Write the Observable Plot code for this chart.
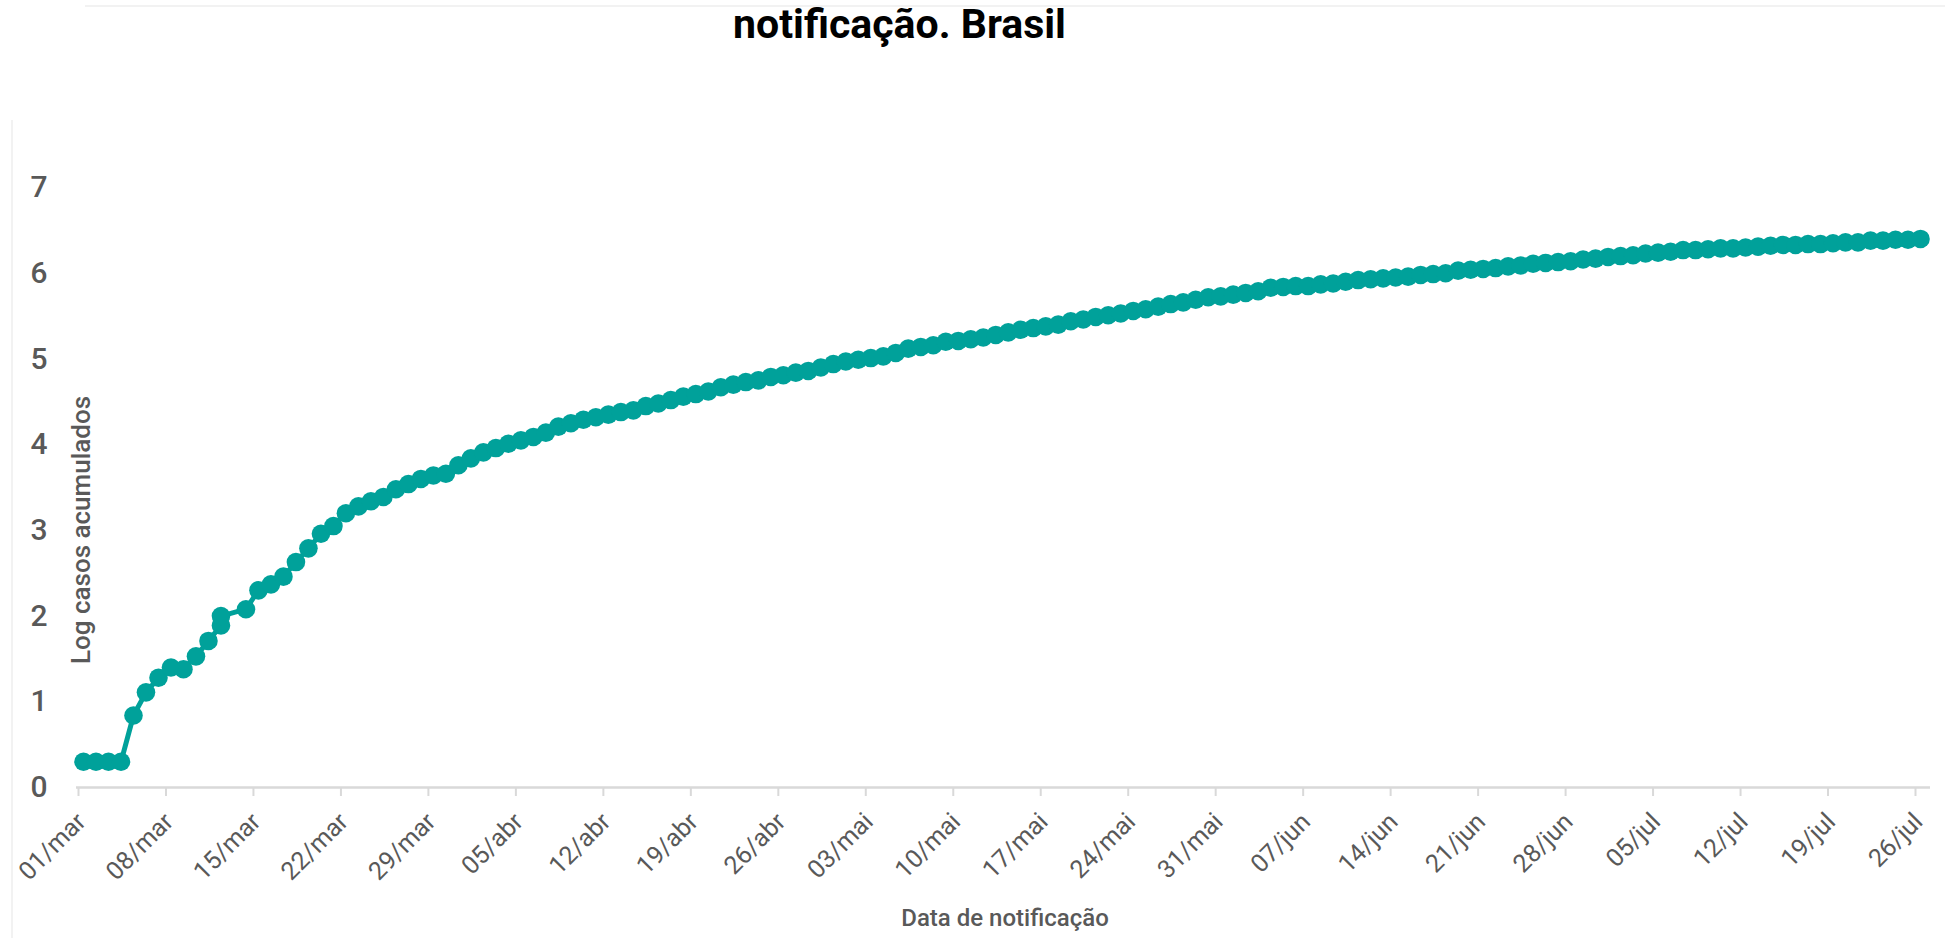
<!DOCTYPE html>
<html>
<head>
<meta charset="utf-8">
<script src="https://cdn.jsdelivr.net/npm/d3@7"></script>
<script src="https://cdn.jsdelivr.net/npm/@observablehq/plot@0.6"></script>
<style>
  html, body { margin: 0; padding: 0; background: #ffffff; }
  body { width: 1945px; height: 938px; position: relative; overflow: hidden; font-family: Roboto, "Noto Sans", sans-serif; }
  #title { height: 60px; box-sizing: border-box; padding-top: 4px; text-align: center; font-size: 41px; line-height: 1; font-weight: 700; color: #000; position: relative; left: -73px; }
  #ylabel { position: absolute; left: 81px; top: 530px; transform: translate(-50%, -50%) rotate(-90deg); white-space: nowrap; font-size: 26px; font-weight: 500; color: #595959; }
  #xlabel { position: absolute; left: 1005px; top: 918px; transform: translate(-50%, -50%); white-space: nowrap; font-size: 24px; font-weight: 500; color: #595959; }
  #topline { position: absolute; left: 85px; right: 0; top: 5px; height: 2px; background: #f2f2f2; }
  #leftline { position: absolute; left: 11px; top: 120px; bottom: 0; width: 2px; background: #f2f2f2; }
</style>
</head>
<body>
<div id="topline"></div>
<div id="leftline"></div>
<div id="title">notificação. Brasil</div>
<div id="chart"></div>
<div id="ylabel">Log casos acumulados</div>
<div id="xlabel">Data de notificação</div>
<script>
// Dates of notification (one date appears twice in the source, one is missing)
const dates = [
  "2020-03-01","2020-03-02","2020-03-03","2020-03-04","2020-03-05","2020-03-06","2020-03-07",
  "2020-03-08","2020-03-09","2020-03-10","2020-03-11","2020-03-12","2020-03-12","2020-03-14",
  "2020-03-15","2020-03-16","2020-03-17","2020-03-18","2020-03-19","2020-03-20","2020-03-21",
  "2020-03-22","2020-03-23","2020-03-24","2020-03-25","2020-03-26","2020-03-27","2020-03-28",
  "2020-03-29","2020-03-30","2020-03-31","2020-04-01","2020-04-02","2020-04-03","2020-04-04",
  "2020-04-05","2020-04-06","2020-04-07","2020-04-08","2020-04-09","2020-04-10","2020-04-11",
  "2020-04-12","2020-04-13","2020-04-14","2020-04-15","2020-04-16","2020-04-17","2020-04-18",
  "2020-04-19","2020-04-20","2020-04-21","2020-04-22","2020-04-23","2020-04-24","2020-04-25",
  "2020-04-26","2020-04-27","2020-04-28","2020-04-29","2020-04-30","2020-05-01","2020-05-02",
  "2020-05-03","2020-05-04","2020-05-05","2020-05-06","2020-05-07","2020-05-08","2020-05-09",
  "2020-05-10","2020-05-11","2020-05-12","2020-05-13","2020-05-14","2020-05-15","2020-05-16",
  "2020-05-17","2020-05-18","2020-05-19","2020-05-20","2020-05-21","2020-05-22","2020-05-23",
  "2020-05-24","2020-05-25","2020-05-26","2020-05-27","2020-05-28","2020-05-29","2020-05-30",
  "2020-05-31","2020-06-01","2020-06-02","2020-06-03","2020-06-04","2020-06-05","2020-06-06",
  "2020-06-07","2020-06-08","2020-06-09","2020-06-10","2020-06-11","2020-06-12","2020-06-13",
  "2020-06-14","2020-06-15","2020-06-16","2020-06-17","2020-06-18","2020-06-19","2020-06-20",
  "2020-06-21","2020-06-22","2020-06-23","2020-06-24","2020-06-25","2020-06-26","2020-06-27",
  "2020-06-28","2020-06-29","2020-06-30","2020-07-01","2020-07-02","2020-07-03","2020-07-04",
  "2020-07-05","2020-07-06","2020-07-07","2020-07-08","2020-07-09","2020-07-10","2020-07-11",
  "2020-07-12","2020-07-13","2020-07-14","2020-07-15","2020-07-16","2020-07-17","2020-07-18",
  "2020-07-19","2020-07-20","2020-07-21","2020-07-22","2020-07-23","2020-07-24","2020-07-25",
  "2020-07-26"
];

// Log10 of accumulated cases
const logCases = [
  0.30, 0.30, 0.30, 0.30, 0.84, 1.11, 1.28,
  1.40, 1.38, 1.53, 1.71, 1.89, 2.00, 2.08,
  2.30, 2.37, 2.46, 2.63, 2.79, 2.96, 3.05,
  3.20, 3.28, 3.34, 3.39, 3.48, 3.54, 3.60,
  3.64, 3.66, 3.76, 3.84, 3.91, 3.96, 4.01,
  4.05, 4.09, 4.14, 4.21, 4.25, 4.29, 4.32,
  4.35, 4.38, 4.40, 4.45, 4.48, 4.52, 4.56,
  4.59, 4.62, 4.67, 4.70, 4.73, 4.75, 4.79,
  4.81, 4.84, 4.86, 4.90, 4.94, 4.97, 4.99,
  5.01, 5.03, 5.07, 5.12, 5.14, 5.16, 5.20,
  5.21, 5.23, 5.25, 5.28, 5.31, 5.34, 5.36,
  5.38, 5.40, 5.44, 5.46, 5.49, 5.51, 5.53,
  5.56, 5.58, 5.61, 5.64, 5.66, 5.69, 5.72,
  5.73, 5.75, 5.77, 5.79, 5.83, 5.84, 5.85,
  5.85, 5.87, 5.88, 5.90, 5.92, 5.93, 5.94,
  5.95, 5.96, 5.98, 5.99, 6.00, 6.03, 6.04,
  6.05, 6.06, 6.08, 6.09, 6.11, 6.12, 6.13,
  6.14, 6.16, 6.17, 6.19, 6.20, 6.21, 6.23,
  6.24, 6.25, 6.27, 6.27, 6.28, 6.29, 6.29,
  6.30, 6.31, 6.32, 6.33, 6.33, 6.34, 6.34,
  6.35, 6.36, 6.36, 6.38, 6.38, 6.39, 6.39,
  6.40
];

// Axis ticks
const tickDates = [
  "2020-03-01","2020-03-08","2020-03-15","2020-03-22","2020-03-29","2020-04-05","2020-04-12",
  "2020-04-19","2020-04-26","2020-05-03","2020-05-10","2020-05-17","2020-05-24","2020-05-31",
  "2020-06-07","2020-06-14","2020-06-21","2020-06-28","2020-07-05","2020-07-12","2020-07-19",
  "2020-07-26"
];
const tickLabels = [
  "01/mar","08/mar","15/mar","22/mar","29/mar","05/abr","12/abr",
  "19/abr","26/abr","03/mai","10/mai","17/mai","24/mai","31/mai",
  "07/jun","14/jun","21/jun","28/jun","05/jul","12/jul","19/jul",
  "26/jul"
];
const yTicks = [0, 1, 2, 3, 4, 5, 6, 7];

const parse = s => new Date(s + "T00:00:00Z");
const data = dates.map((d, i) => ({date: parse(d), value: logCases[i]}));
const tickDateObjs = tickDates.map(parse);
const labelOf = new Map(tickDateObjs.map((d, i) => [+d, tickLabels[i]]));

const teal = "#00a19a";

const chart = Plot.plot({
  width: 1945,
  height: 878,
  marginTop: 127,
  marginBottom: 151,
  marginLeft: 83,
  marginRight: 25,
  style: {fontFamily: "Roboto, 'Noto Sans', sans-serif", background: "#ffffff", overflow: "visible"},
  x: {type: "utc", domain: [parse("2020-03-01"), parse("2020-07-26")]},
  y: {domain: [0, 7]},
  marks: [
    Plot.ruleY([0], {stroke: "#d9d9d9", strokeWidth: 2.5, insetLeft: -7, insetRight: -10}),
    // tick marks
    Plot.axisX({
      ticks: tickDateObjs,
      tickFormat: () => "",
      tickSize: 9,
      stroke: "#d9d9d9",
      strokeWidth: 2,
      dx: -5,
      label: null
    }),
    // tick labels
    Plot.axisX({
      ticks: tickDateObjs,
      tickFormat: d => labelOf.get(+d),
      tickRotate: -45,
      tickSize: 0,
      tickPadding: 30,
      fill: "#595959",
      fontSize: 25,
      dx: -2,
      label: null
    }),
    Plot.axisY({
      ticks: yTicks,
      tickFormat: d3.format("d"),
      tickSize: 0,
      tickPadding: 36,
      fill: "#595959",
      fontSize: 30,
      fontWeight: 500,
      label: null
    }),
    Plot.line(data, {x: "date", y: "value", stroke: teal, strokeWidth: 5}),
    Plot.dot(data, {x: "date", y: "value", r: 9.3, fill: teal, stroke: "none"})
  ]
});
document.getElementById("chart").appendChild(chart);
</script>
</body>
</html>
